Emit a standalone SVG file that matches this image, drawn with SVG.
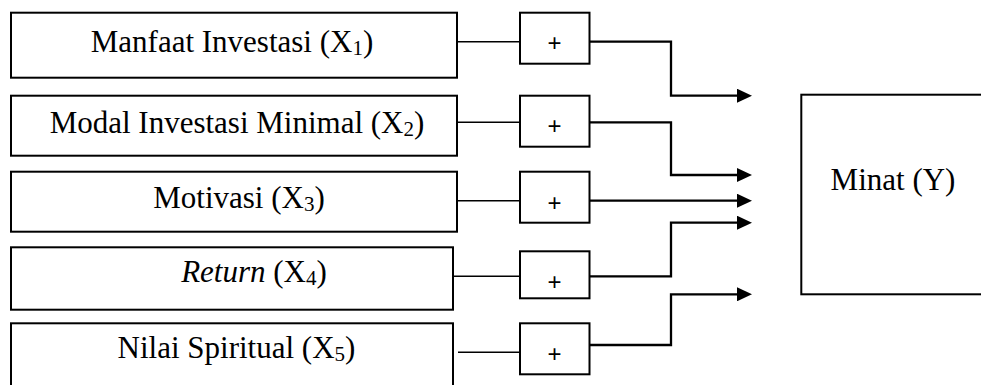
<svg xmlns="http://www.w3.org/2000/svg" width="981" height="385" viewBox="0 0 981 385">
<style>
.box{fill:#fff;stroke:#000;stroke-width:2}
.pbox{fill:#fff;stroke:#000;stroke-width:2}
.lbl{font-family:"Liberation Serif","Times New Roman",serif;font-size:31px;fill:#000;text-anchor:middle}
.sub{font-size:21px}
.plus{font-family:"Liberation Sans",Arial,sans-serif;font-size:24px;fill:#000;text-anchor:middle}
.in{fill:none;stroke:#000;stroke-width:1.5}
.out{fill:none;stroke:#000;stroke-width:2.3;marker-end:url(#ah)}
</style>
<defs>
<marker id="ah" viewBox="0 0 15 14" refX="0" refY="7" markerWidth="15" markerHeight="14" markerUnits="userSpaceOnUse" orient="auto">
<path d="M0,0 L15,7 L0,14 z" fill="#000"/>
</marker>
</defs>
<rect width="981" height="385" fill="#fff"/>
<g id="x1">
<rect class="box" x="11" y="12.7" width="446" height="65"/>
<text class="lbl" x="232" y="52.3">Manfaat Investasi (X<tspan class="sub" dy="3">1</tspan><tspan dy="-3">)</tspan></text>
</g>
<g id="x2">
<rect class="box" x="11" y="95.7" width="446" height="60"/>
<text class="lbl" x="237" y="133.3">Modal Investasi Minimal (X<tspan class="sub" dy="3">2</tspan><tspan dy="-3">)</tspan></text>
</g>
<g id="x3">
<rect class="box" x="11" y="171.7" width="446" height="60"/>
<text class="lbl" x="239" y="208.3">Motivasi (X<tspan class="sub" dy="3">3</tspan><tspan dy="-3">)</tspan></text>
</g>
<g id="x4">
<rect class="box" x="11" y="247.3" width="442" height="62.4"/>
<text class="lbl" x="254" y="281.7"><tspan font-style="italic">Return</tspan> (X<tspan class="sub" dy="3">4</tspan><tspan dy="-3">)</tspan></text>
</g>
<g id="x5">
<rect class="box" x="11" y="323.3" width="442" height="80"/>
<text class="lbl" x="236.5" y="358.3">Nilai Spiritual (X<tspan class="sub" dy="3">5</tspan><tspan dy="-3">)</tspan></text>
</g>
<g id="p1"><rect class="pbox" x="520" y="12.7" width="69.5" height="51"/><text class="plus" x="554.5" y="51">+</text></g>
<g id="p2"><rect class="pbox" x="520" y="95.7" width="69.5" height="51"/><text class="plus" x="554.5" y="134.3">+</text></g>
<g id="p3"><rect class="pbox" x="520" y="171.7" width="69.5" height="51"/><text class="plus" x="554.5" y="211">+</text></g>
<g id="p4"><rect class="pbox" x="520" y="251.3" width="69.5" height="47"/><text class="plus" x="554.5" y="290">+</text></g>
<g id="p5"><rect class="pbox" x="520" y="323.3" width="69.5" height="51"/><text class="plus" x="554.5" y="361.6">+</text></g>
<g id="y">
<rect class="box" x="801.3" y="94.7" width="200" height="199.6"/>
<text class="lbl" x="893" y="190">Minat (Y)</text>
</g>
<g id="connectors">
<path class="in" d="M457,41.7 H520"/>
<path class="in" d="M457,122.3 H520"/>
<path class="in" d="M457,200.7 H520"/>
<path class="in" d="M453,276.3 H520"/>
<path class="in" d="M458,352.3 H520"/>
<path class="out" d="M589.5,41.7 H671 V95.7 H737"/>
<path class="out" d="M589.5,122.3 H671 V175 H737"/>
<path class="out" d="M589.5,200.7 H737"/>
<path class="out" d="M589.5,276.3 H671 V222.7 H737"/>
<path class="out" d="M589.5,345 H671 V294.3 H737"/>
</g>
</svg>
